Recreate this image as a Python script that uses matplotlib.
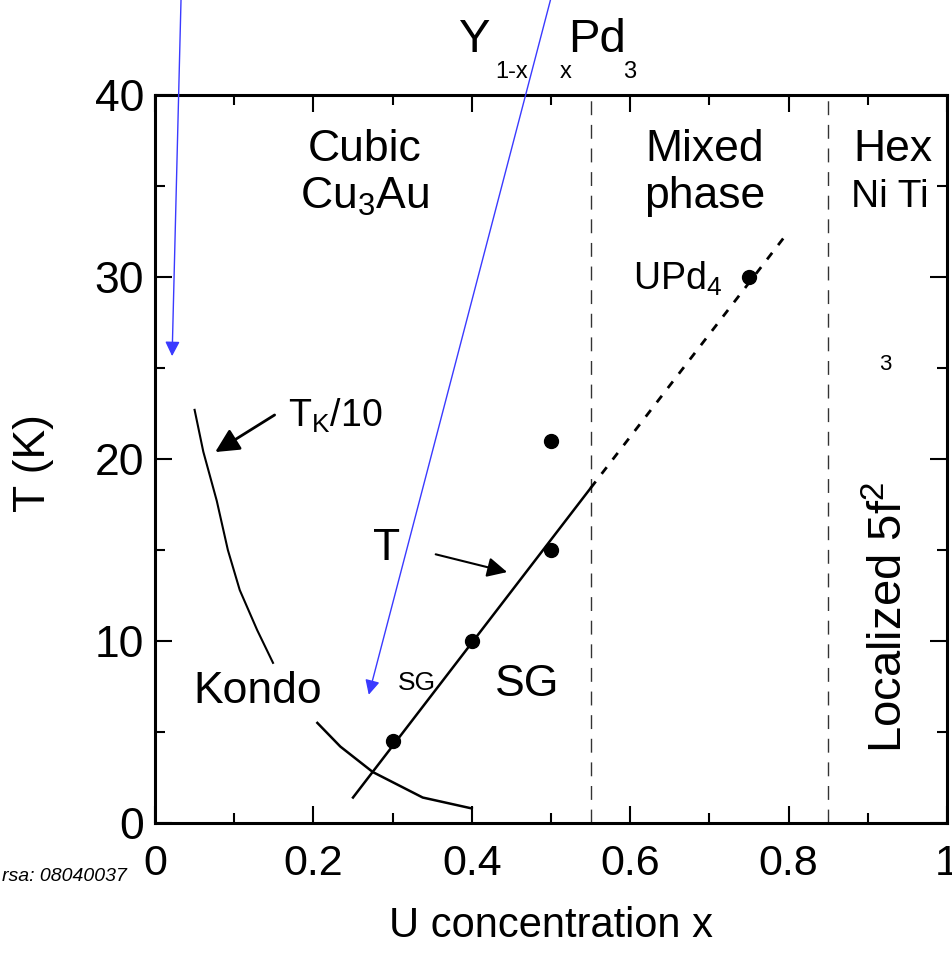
import numpy as np
import matplotlib
matplotlib.use('Agg')
import matplotlib.pyplot as plt
from matplotlib import font_manager
from matplotlib.ticker import MultipleLocator

# pick a narrow sans if it is there, else plain Liberation Sans
names = {f.name for f in font_manager.fontManager.ttflist}
NARROW = 'Liberation Sans Narrow' if 'Liberation Sans Narrow' in names else 'Liberation Sans'
REG = 'Liberation Sans'

plt.rcParams['font.family'] = [NARROW, 'DejaVu Sans']
plt.rcParams['mathtext.fontset'] = 'custom'
plt.rcParams['mathtext.rm'] = NARROW
plt.rcParams['mathtext.it'] = NARROW
plt.rcParams['mathtext.bf'] = NARROW

# measured points (U concentration, T in K)
pts_x = [0.3, 0.4, 0.5, 0.5, 0.75]
pts_t = [4.5, 10.0, 15.0, 21.0, 30.0]

# spin glass boundary, solid then dashed extrapolation
sg_x = [0.25, 0.55]
sg_t = [1.4, 18.4]
sg_ext_x = [0.55, 0.80]
sg_ext_t = [18.4, 32.5]

# Kondo T_K/10 curve, broken around the "Kondo" label
tk_x1 = [0.050, 0.061, 0.078, 0.092, 0.107, 0.129, 0.149]
tk_t1 = [22.7, 20.4, 17.7, 15.0, 12.8, 10.6, 8.8]
tk_x2 = [0.205, 0.234, 0.275, 0.338, 0.400]
tk_t2 = [5.5, 4.2, 2.8, 1.4, 0.8]

# phase boundaries
phase_x = [0.55, 0.85]

xticks = [0, 0.2, 0.4, 0.6, 0.8, 1]
xtick_labels = ['0', '0.2', '0.4', '0.6', '0.8', '1']
yticks = [0, 10, 20, 30, 40]

fig = plt.figure(figsize=(9.52, 9.55), dpi=100)
ax = fig.add_axes([155/952, 132/955, 792/952, 728/955])
ax.set_xlim(0, 1)
ax.set_ylim(0, 40)

for xb in phase_x:
    ax.plot([xb, xb], [0, 40], color='#333333', lw=1.0, linestyle=(0, (10, 7)))

ax.plot(sg_x, sg_t, color='black', lw=1.8)
ax.plot(sg_ext_x, sg_ext_t, color='black', lw=2.0, dashes=(3, 3.5))
ax.plot(tk_x1, tk_t1, color='black', lw=1.5)
ax.plot(tk_x2, tk_t2, color='black', lw=1.8)
ax.plot(pts_x, pts_t, 'o', color='black', ms=10, ls='none')

ax.set_xticks(xticks)
ax.set_xticklabels(xtick_labels)
ax.set_yticks(yticks)
ax.xaxis.set_minor_locator(MultipleLocator(0.1))
ax.yaxis.set_minor_locator(MultipleLocator(5))
ax.tick_params(which='both', direction='in', top=True, right=True, width=1.5)
ax.tick_params(which='major', length=12)
ax.tick_params(which='minor', length=7)
ax.tick_params(axis='x', labelsize=31, pad=15)
ax.tick_params(axis='y', labelsize=32, pad=8)
for lab in ax.get_yticklabels():
    lab.set_family([REG, 'DejaVu Sans'])
for sp in ax.spines.values():
    sp.set_linewidth(2.2)

# region labels
fs = 32
ax.text(0.265, 37.0, 'Cubic', fontsize=fs, ha='center', va='center')
ax.text(0.265, 34.4, r'Cu$_3$Au', fontsize=fs, ha='center', va='center')
ax.text(0.694, 37.0, 'Mixed', fontsize=fs, ha='center', va='center')
ax.text(0.694, 34.4, 'phase', fontsize=fs, ha='center', va='center')
ax.text(0.932, 37.0, 'Hex', fontsize=fs, ha='center', va='center', clip_on=False)
ax.text(0.928, 34.4, 'Ni Ti', fontsize=28, ha='center', va='center', clip_on=False)
ax.text(0.604, 29.9, r'UPd$_4$', fontsize=27, ha='left', va='center')
ax.text(0.922, 25.2, '3', fontsize=16, ha='center', va='center')
ax.text(0.928, 11.3, r'Localized 5f$^2$', fontsize=34, rotation=90,
        ha='center', va='center', family=[REG, 'DejaVu Sans'])
ax.text(0.168, 21.8, r'T$_K$/10', fontsize=27, ha='left', va='baseline')
ax.text(0.293, 15.1, 'T', fontsize=fs, ha='center', va='center')
ax.text(0.130, 7.2, 'Kondo', fontsize=fs, ha='center', va='center')
ax.text(0.331, 7.7, 'SG', fontsize=19, ha='center', va='center')
ax.text(0.470, 7.6, 'SG', fontsize=fs, ha='center', va='center')

# black pointer arrows
ax.annotate('', xy=(0.073, 20.3), xytext=(0.154, 22.5),
            arrowprops=dict(arrowstyle='-|>', color='black', lw=2.0, mutation_scale=36))
ax.annotate('', xy=(0.448, 13.75), xytext=(0.351, 14.8),
            arrowprops=dict(arrowstyle='-|>', color='black', lw=1.5, mutation_scale=30))

# blue annotation arrows drawn over the scan
ax.annotate('', xy=(0.0215, 25.5), xytext=(0.033, 45.5), annotation_clip=False,
            arrowprops=dict(arrowstyle='-|>', color='#3a3aff', lw=1.0, mutation_scale=22))
ax.annotate('', xy=(0.269, 6.9), xytext=(0.501, 45.5), annotation_clip=False,
            arrowprops=dict(arrowstyle='-|>', color='#3a3aff', lw=1.0, mutation_scale=22))

# title formula
fig.text(475/952, 1 - 40/955, 'Y', fontsize=34, ha='center', va='center')
fig.text(512/952, 1 - 72/955, '1-x', fontsize=17, ha='center', va='center')
fig.text(566/952, 1 - 72/955, 'x', fontsize=17, ha='center', va='center')
fig.text(597/952, 1 - 40/955, 'Pd', fontsize=34, ha='center', va='center')
fig.text(630/952, 1 - 72/955, '3', fontsize=17, ha='center', va='center')

fig.text(33/952, 1 - 463/955, 'T (K)', fontsize=32, rotation=90,
         ha='center', va='center', family=[REG, 'DejaVu Sans'])
fig.text(551/952, 1 - 926/955, 'U concentration x', fontsize=30, ha='center', va='center')
fig.text(2/952, 1 - 876/955, 'rsa: 08040037', fontsize=14, style='italic',
         ha='left', va='center', family=['Liberation Sans', 'DejaVu Sans'])

fig.savefig('out.png', dpi=100)
